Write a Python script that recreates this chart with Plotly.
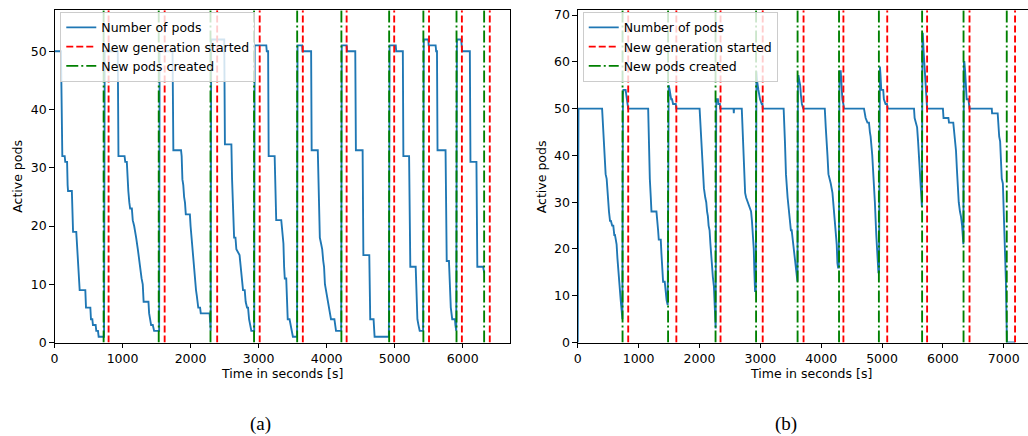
import plotly.graph_objects as go

# ---------------- data ----------------
# Panel (a)
A_TIME = [0, 95, 115, 150, 158, 185, 193, 199, 255, 262, 273, 320, 330, 345, 352, 370, 453, 463, 527, 536, 556, 565, 605, 614, 639, 649, 728,
          738, 930, 940, 1030, 1040, 1063, 1075, 1085, 1100, 1112, 1137, 1150, 1171, 1190, 1200, 1225, 1240, 1258, 1280, 1297, 1310, 1381, 1391, 1405, 1420, 1445, 1464, 1538,
          1545, 1735, 1747, 1860, 1869, 1880, 1893, 1905, 1918, 1930, 1990, 2000, 2015, 2028, 2039, 2050, 2064, 2080, 2092, 2100, 2113, 2140, 2150, 2280, 2290, 2296,
          2303, 2495, 2505, 2600, 2610, 2625, 2640, 2660, 2673, 2720, 2735, 2747, 2760, 2771, 2796, 2810, 2830, 2845, 2860, 2880, 2893, 2936,
          2942, 3113, 3120, 3140, 3148, 3236, 3245, 3259, 3333, 3345, 3365, 3375, 3385, 3406, 3412, 3421, 3428, 3455, 3470, 3494, 3504, 3565,
          3572, 3640, 3645, 3772, 3780, 3870, 3878, 3890, 3900, 3918, 3935, 3950, 3962, 3975, 3990, 4010, 4030, 4050, 4064, 4114, 4125, 4138, 4214,
          4222, 4294, 4300, 4421, 4430, 4529, 4540, 4627, 4641, 4690, 4705, 4915,
          4925, 5016, 5022, 5120, 5128, 5212, 5230, 5309, 5320, 5334, 5350, 5368, 5418,
          5428, 5495, 5500, 5602, 5610, 5622, 5630, 5748, 5755, 5765, 5798, 5810, 5825, 5846, 5886, 5893, 5905,
          5915, 5978, 5985, 5993, 6105, 6114, 6202, 6215, 6300, 6316]
A_PODS = [50, 50, 32, 32, 31, 31, 27, 26, 26, 20, 19, 19, 17, 14, 12, 9, 9, 6, 6, 4, 4, 3, 3, 2, 2, 1, 1,
          50, 50, 32, 32, 31, 31, 27, 26, 24, 23, 23, 21, 20, 18, 18, 16, 14, 13, 11, 10, 7, 7, 5, 4, 3, 3, 2, 2,
          50, 50, 33, 33, 32, 28, 27, 25, 24, 22, 22, 20, 18, 16, 14, 12, 10, 9, 8, 7, 6, 6, 5, 5, 2, 2,
          52, 52, 34, 34, 28, 22, 18, 18, 16, 15, 13, 12, 10, 9, 9, 7, 6, 6, 4, 3, 2, 2,
          51, 51, 50, 50, 32, 32, 27, 21, 21, 19, 17, 13, 11, 11, 8, 5, 4, 4, 3, 2, 1, 1,
          51, 51, 50, 50, 33, 33, 27, 22, 18, 17, 16, 14, 13, 10, 9, 8, 6, 5, 4, 4, 3, 2, 2,
          51, 51, 50, 50, 33, 33, 15, 15, 4, 4, 1, 1,
          51, 51, 50, 50, 32, 32, 13, 13, 10, 4, 3, 2, 2,
          52, 52, 51, 51, 50, 50, 33, 33, 16, 14, 14, 10, 6, 4, 4, 3, 2,
          52, 52, 51, 50, 50, 31, 31, 13, 13, 12]
A_GENERATION = [795, 1619, 2391, 3016, 3650, 4294, 4993, 5505, 5988, 6398]
A_NEW_PODS = [722, 1532, 2293, 2933, 3567, 4217, 4919, 5422, 5909, 6315]

# Panel (b)
B_TIME = [0, 12, 400, 420, 437, 458, 475, 490, 513, 530, 545, 565, 584, 600, 611, 625, 638, 652, 666, 680, 693, 706, 720, 733,
          742, 750, 786, 795, 805, 815, 829, 1157, 1170, 1184, 1200, 1211, 1293, 1305, 1320, 1331, 1364, 1375, 1390, 1402, 1429, 1445, 1460, 1478,
          1494, 1510, 1522, 1535, 1549, 1566, 1610, 1620, 2002, 2029, 2057, 2073, 2095, 2111, 2125, 2138, 2150, 2166, 2180, 2193, 2205, 2220, 2237, 2248, 2258, 2266,
          2275, 2303, 2310, 2335, 2340, 2560, 2564, 2568, 2695, 2712, 2728, 2750, 2766, 2794, 2820, 2848, 2862, 2875, 2892, 2902, 2913, 2926,
          2936, 2946, 2968, 2995, 3023, 3035, 3039, 3383, 3404, 3421, 3448, 3475, 3490, 3502, 3515, 3530, 3557, 3584, 3601, 3610,
          3618, 3628, 3640, 3655, 3666, 3683, 3705, 4059, 4075, 4092, 4103, 4119, 4141, 4157, 4185, 4211, 4239, 4255, 4266, 4277, 4290,
          4300, 4321, 4332, 4348, 4364, 4375, 4703, 4730, 4760, 4785, 4800, 4812, 4839, 4866, 4882, 4905, 4925, 4940, 4950,
          4956, 4965, 4975, 4987, 5019, 5030, 5057, 5080, 5095, 5525, 5535, 5555, 5576, 5592, 5603, 5619, 5630, 5646, 5655,
          5664, 5670, 5684, 5701, 5712, 5723, 5740, 6000, 6010, 6090, 6100, 6170, 6185, 6200, 6215, 6230, 6245, 6260, 6280, 6296, 6315, 6336,
          6345, 6352, 6365, 6375, 6390, 6420, 6430, 6437, 6803, 6808, 6900, 6912, 6925, 6940, 6955, 6967, 6985, 6995, 7010, 7025, 7035, 7045, 7052, 7185]
B_PODS = [0, 50, 50, 45, 40, 36, 35, 31, 28, 26, 26, 25, 25, 23, 23, 22, 21, 18, 15, 13, 11, 9, 7, 5,
          53, 54, 54, 53, 52, 51, 50, 50, 40, 35, 31, 28, 28, 25, 24, 22, 22, 19, 16, 13, 13, 10, 9, 8,
          55, 54, 53, 52, 52, 51, 51, 50, 50, 43, 36, 33, 31, 30, 28, 27, 25, 24, 21, 18, 16, 14, 12, 8, 4, 3,
          52, 52, 51, 51, 50, 50, 49, 50, 50, 43, 38, 32, 31, 30, 29, 28, 26, 24, 20, 15, 11, 11,
          58, 56, 54, 52, 51, 51, 50, 50, 43, 36, 31, 27, 25, 24, 24, 22, 19, 16, 13, 13,
          57, 57, 56, 55, 53, 51, 50, 50, 46, 43, 40, 36, 35, 34, 32, 28, 24, 21, 17, 16, 16,
          58, 58, 55, 52, 51, 50, 50, 48, 47, 47, 45, 44, 40, 35, 30, 23, 17, 15, 15,
          59, 59, 57, 54, 54, 52, 51, 51, 50, 50, 48, 47, 46, 43, 40, 36, 34, 31, 29,
          66, 66, 62, 58, 54, 52, 50, 50, 48, 48, 47, 47, 45, 44, 41, 37, 33, 30, 28, 27, 25, 21,
          60, 60, 58, 54, 52, 52, 51, 50, 50, 49, 49, 46, 44, 43, 36, 35, 34, 30, 25, 20, 13, 5, 0, 0]
B_GENERATION = [829, 1620, 2346, 3039, 3710, 4365, 5085, 5740, 6437, 7185]
B_NEW_PODS = [736, 1484, 2264, 2930, 3612, 4293, 4948, 5658, 6339, 7049]

A_XTICKS = [0, 1000, 2000, 3000, 4000, 5000, 6000]
A_YTICKS = [0, 10, 20, 30, 40, 50]
B_XTICKS = [0, 1000, 2000, 3000, 4000, 5000, 6000, 7000]
B_YTICKS = [0, 10, 20, 30, 40, 50, 60, 70]

SERIES_NAMES = ["Number of pods", "New generation started", "New pods created"]
X_TITLE = "Time in seconds [s]"
Y_TITLE = "Active pods"
CAPTIONS = ["(a)", "(b)"]

# ---------------- layout helpers ----------------
W, H = 1028, 436
A_XRANGE = [0, 6700]
A_YRANGE = [0, 57.05]
B_XRANGE = [0, 7398]
B_YRANGE = [0, 71.06]

BLUE = "#1f77b4"
RED = "#ff0000"
GREEN = "#008000"
FONT = "DejaVu Sans"
FS = 12.5
LW = 1.875


def vlines(xs, ymax):
    X, Y = [], []
    for v in xs:
        X += [v, v, None]
        Y += [0, ymax, None]
    return X, Y


fig = go.Figure()

panels = [
    (A_TIME, A_PODS, A_GENERATION, A_NEW_PODS, A_YRANGE, "x", "y", "legend"),
    (B_TIME, B_PODS, B_GENERATION, B_NEW_PODS, B_YRANGE, "x2", "y2", "legend2"),
]
for t, pods, gen, newp, yr, xa, ya, lg in panels:
    fig.add_trace(go.Scatter(x=t, y=pods, mode="lines", name=SERIES_NAMES[0],
                             line=dict(color=BLUE, width=LW), xaxis=xa, yaxis=ya, legend=lg,
                             hoverinfo="skip"))
    gx, gy = vlines(gen, yr[1])
    fig.add_trace(go.Scatter(x=gx, y=gy, mode="lines", name=SERIES_NAMES[1],
                             line=dict(color=RED, width=LW, dash="7px,3px"),
                             xaxis=xa, yaxis=ya, legend=lg, hoverinfo="skip"))
    nx, ny = vlines(newp, yr[1])
    fig.add_trace(go.Scatter(x=nx, y=ny, mode="lines", name=SERIES_NAMES[2],
                             line=dict(color=GREEN, width=LW, dash="12px,3px,2px,3px"),
                             xaxis=xa, yaxis=ya, legend=lg, hoverinfo="skip"))

ydom = [1 - 347.5 / H, 1 - 7.3 / H]
common = dict(showgrid=False, zeroline=False, showline=True, linecolor="black", linewidth=1,
              ticks="outside", ticklen=4.4, tickwidth=1, tickcolor="black",
              tickfont=dict(family=FONT, size=FS, color="black"))

fig.update_layout(
    width=W, height=H,
    margin=dict(l=0, r=0, t=0, b=0),
    paper_bgcolor="white", plot_bgcolor="white",
    showlegend=True,
    xaxis=dict(domain=[50.7 / W, 508.3 / W], range=A_XRANGE, anchor="y", mirror=True,
               tickvals=A_XTICKS, ticktext=[str(v) for v in A_XTICKS], **common),
    yaxis=dict(domain=ydom, range=A_YRANGE, anchor="x", mirror=True,
               tickvals=A_YTICKS, ticktext=[str(v) for v in A_YTICKS], **common),
    xaxis2=dict(domain=[576.0 / W, 1.0], range=B_XRANGE, anchor="y2", mirror=True,
                tickvals=B_XTICKS, ticktext=[str(v) for v in B_XTICKS], **common),
    yaxis2=dict(domain=ydom, range=B_YRANGE, anchor="x2", mirror=False,
                tickvals=B_YTICKS, ticktext=[str(v) for v in B_YTICKS], **common),
    legend=dict(x=56.5 / W, y=1 - 9.0 / H, xanchor="left", yanchor="top",
                bgcolor="rgba(255,255,255,0.8)", bordercolor="#cccccc", borderwidth=1,
                font=dict(family=FONT, size=FS, color="black")),
    legend2=dict(x=581.0 / W, y=1 - 9.0 / H, xanchor="left", yanchor="top",
                 bgcolor="rgba(255,255,255,0.8)", bordercolor="#cccccc", borderwidth=1,
                 font=dict(family=FONT, size=FS, color="black")),
)

ann = []
txt = dict(family=FONT, size=FS, color="black")
ann.append(dict(text=Y_TITLE, x=13.5 / W, y=1 - 177.4 / H, textangle=-90, font=txt))
ann.append(dict(text=Y_TITLE, x=539 / W, y=1 - 177.4 / H, textangle=-90, font=txt))
ann.append(dict(text=X_TITLE, x=279.5 / W, y=1 - 379 / H, font=txt))
ann.append(dict(text=X_TITLE, x=810 / W, y=1 - 379 / H, font=txt))
cap = dict(family="Liberation Serif", size=19, color="black")
ann.append(dict(text=CAPTIONS[0], x=257 / W, y=1 - 431 / H, font=cap))
ann.append(dict(text=CAPTIONS[1], x=785 / W, y=1 - 431 / H, font=cap))
for a in ann:
    a.update(xref="paper", yref="paper", showarrow=False, xanchor="center", yanchor="middle")
fig.update_layout(annotations=ann)

fig.write_html("out.html")
